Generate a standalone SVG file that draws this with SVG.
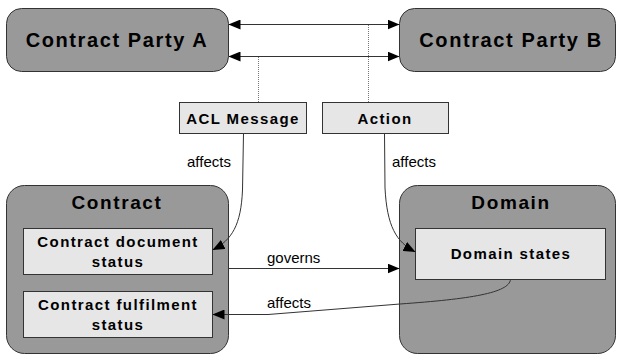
<svg xmlns="http://www.w3.org/2000/svg" width="617" height="356" viewBox="0 0 617 356">
<defs>
<marker id="ah" viewBox="0 0 12 10" refX="12" refY="5" markerWidth="12" markerHeight="10" markerUnits="userSpaceOnUse" orient="auto-start-reverse">
<path d="M0,0 L12,5 L0,10 Z" fill="#000"/>
</marker>
<style>
.big{fill:#999999;stroke:#333;stroke-width:1}
.inner{fill:#e6e6e6;stroke:#333;stroke-width:1}
.t1{font-family:"Liberation Sans",Arial,sans-serif;font-weight:bold;font-size:19px;letter-spacing:1.6px;text-anchor:middle;fill:#000}
.t2{font-family:"Liberation Sans",Arial,sans-serif;font-weight:bold;font-size:15px;letter-spacing:1.4px;text-anchor:middle;fill:#000}
.lbl{font-family:"Liberation Sans",Arial,sans-serif;font-size:15px;fill:#000}
.ln{fill:none;stroke:#333;stroke-width:1}
.dot{fill:none;stroke:#777;stroke-width:1;stroke-dasharray:1,1}
</style>
</defs>
<g id="partyA"><rect class="big" x="6.5" y="8.5" width="222" height="63" rx="15"/><text class="t1" x="117" y="47" style="font-size:20px">Contract Party A</text></g>
<g id="partyB"><rect class="big" x="399.5" y="8.5" width="216" height="63" rx="15"/><text class="t1" x="511" y="47" style="font-size:20px">Contract Party B</text></g>
<g id="acl"><rect class="inner" x="179.5" y="102.5" width="127" height="31"/><text class="t2" x="243" y="124">ACL Message</text></g>
<g id="action"><rect class="inner" x="322.5" y="102.5" width="126" height="31"/><text class="t2" x="385" y="124">Action</text></g>
<g id="contract"><rect class="big" x="6.5" y="185.5" width="222" height="168" rx="18"/><text class="t1" x="117" y="209">Contract</text>
<g id="docstatus"><rect class="inner" x="23.5" y="228.5" width="189" height="46"/><text class="t2" x="118" y="247">Contract document</text><text class="t2" x="118" y="267">status</text></g>
<g id="fulstatus"><rect class="inner" x="23.5" y="291.5" width="189" height="46"/><text class="t2" x="118" y="310">Contract fulfilment</text><text class="t2" x="118" y="330">status</text></g>
</g>
<g id="domain"><rect class="big" x="399.5" y="185.5" width="216" height="168" rx="18"/><text class="t1" x="511" y="209">Domain</text>
<g id="domstates"><rect class="inner" x="415.5" y="228.5" width="190" height="51"/><text class="t2" x="511" y="259">Domain states</text></g>
</g>
<g id="connectors">
<path class="ln" d="M228.5,24.5 L399.5,24.5" marker-start="url(#ah)" marker-end="url(#ah)"/>
<path class="ln" d="M228.5,56.5 L399.5,56.5" marker-start="url(#ah)" marker-end="url(#ah)"/>
<path class="dot" d="M258.5,57 L258.5,102"/>
<path class="dot" d="M368.5,25 L368.5,102"/>
<path class="ln" d="M243.5,133.5 L242.5,190 C241,225 232,240 212.5,250" marker-end="url(#ah)"/>
<path class="ln" d="M384.5,133.5 L385,188 C387,226 396,242 415.5,252" marker-end="url(#ah)"/>
<path class="ln" d="M228.5,268.5 L399.5,268.5" marker-end="url(#ah)"/>
<path class="ln" d="M510.5,279.5 C509,293 470,299 400,304 L268,314.5 L212.5,314.5" marker-end="url(#ah)"/>
<text class="lbl" x="187" y="167">affects</text>
<text class="lbl" x="392" y="167">affects</text>
<text class="lbl" x="267" y="263">governs</text>
<text class="lbl" x="267" y="308">affects</text>
</g>
</svg>
